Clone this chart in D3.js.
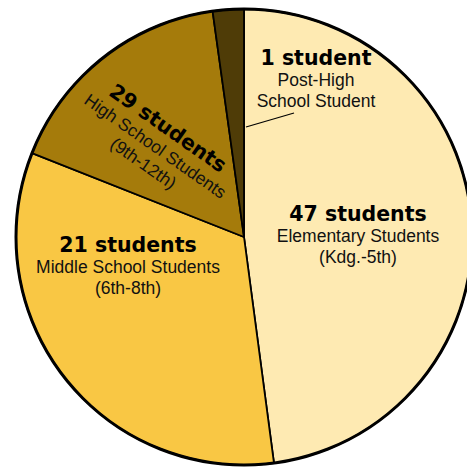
<!DOCTYPE html>
<html>
<head>
<meta charset="utf-8">
<script src="https://cdn.jsdelivr.net/npm/d3@7"></script>
<style>
  body { margin: 0; background: #fff; }
  .count { font-family: 'DejaVu Sans', sans-serif; font-weight: bold; font-size: 20.5px; fill: #000; }
  .desc { font-family: 'Liberation Sans', Arial, sans-serif; font-size: 17.5px; fill: #111; }
</style>
</head>
<body>
<svg width="467" height="470"></svg>
<script>
// slice order clockwise from 12 o'clock
const groups = ['Elementary', 'Middle', 'High', 'PostHigh'];
// share of the circle each slice takes, as drawn (percent)
const shares = [47.9, 33.1, 16.8, 2.2];
const counts = ['47 students', '21 students', '29 students', '1 student'];
const descLines = [
  ['Elementary Students', '(Kdg.-5th)'],
  ['Middle School Students', '(6th-8th)'],
  ['High School Students', '(9th-12th)'],
  ['Post-High', 'School Student']
];
const colors = ['#feeab2', '#f9c744', '#a57b0b', '#4f3c07'];

const svg = d3.select('svg');
const cx = 244, cy = 237, radius = 228;

const chart = svg.append('g')
  .attr('transform', `translate(${cx}, ${cy})`);

const pie = d3.pie().sort(null).value((d) => d)(shares);
const arc = d3.arc().innerRadius(0).outerRadius(radius);

chart.selectAll('path')
  .data(pie)
  .enter()
  .append('path')
    .attr('d', arc)
    .attr('fill', (d, i) => colors[i])
    .attr('stroke', '#000')
    .attr('stroke-width', 1.8)
    .attr('stroke-linejoin', 'round');

chart.append('circle')
  .attr('r', radius)
  .attr('fill', 'none')
  .attr('stroke', '#000')
  .attr('stroke-width', 3);

// label anchors (baseline of first description line, relative to centre) and rotation
const labelPos = [
  { x: 114, y: 5, rot: 0 },
  { x: -116, y: 36, rot: 0 },
  { x: -92, y: -86, rot: 35 },
  { x: 72, y: -151, rot: 0 }
];

const labels = chart.selectAll('.label')
  .data(groups)
  .enter()
  .append('g')
    .attr('class', 'label')
    .attr('transform', (g, i) => `translate(${labelPos[i].x}, ${labelPos[i].y}) rotate(${labelPos[i].rot})`);

labels.append('text')
  .attr('class', 'count')
  .attr('text-anchor', 'middle')
  .attr('y', -21)
  .text((g, i) => counts[i]);

labels.each(function (g, i) {
  d3.select(this).selectAll('.desc')
    .data(descLines[i])
    .enter()
    .append('text')
      .attr('class', 'desc')
      .attr('text-anchor', 'middle')
      .attr('y', (t, j) => j * 21)
      .text((t) => t);
});

// leader line for the tiny slice
chart.append('line')
  .attr('x1', 50).attr('y1', -124)
  .attr('x2', 2).attr('y2', -110)
  .attr('stroke', '#000')
  .attr('stroke-width', 1.2);
</script>
</body>
</html>
